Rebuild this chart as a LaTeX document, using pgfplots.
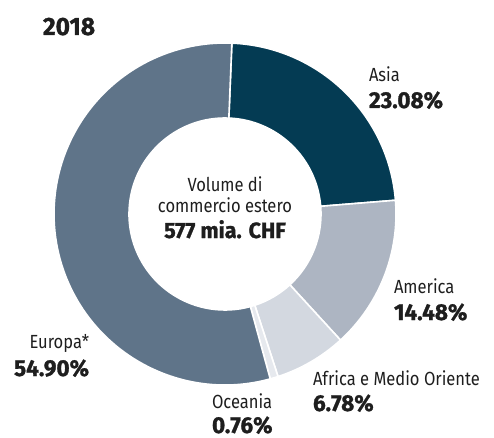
\documentclass[border=0pt]{standalone}
\usepackage{pgfplots}
\pgfplotsset{compat=1.18}
\usepackage{fontspec}
\setmainfont{Fira Sans}[FakeStretch=0.87,BoldFeatures={FakeStretch=0.98,FakeBold=1.2}]
\definecolor{cAsia}{HTML}{043B53}
\definecolor{cAme}{HTML}{ADB5C2}
\definecolor{cAfr}{HTML}{D3D8E0}
\definecolor{cOce}{HTML}{E6E9EE}
\definecolor{cEur}{HTML}{5F7489}
\definecolor{txt}{HTML}{1E1E1E}
\begin{document}
\begin{tikzpicture}
\begin{axis}[width=494pt,height=437pt,scale only axis,hide axis,
  xmin=0,xmax=494,ymin=0,ymax=437,clip=false]
\xdef\curang{87.7}
\foreach \v/\c in {23.08/cAsia,14.48/cAme,6.78/cAfr,0.76/cOce,54.90/cEur}{
  \pgfmathsetmacro\e{\curang-3.6*\v}
  \edef\temp{\noexpand\fill[\c,draw=white,line width=1.6pt,line join=miter]
    ([shift={(\curang:171pt)}]axis cs:225,223)
    arc[start angle=\curang,end angle=\e,radius=171pt]
    -- ([shift={(\e:96pt)}]axis cs:225,223)
    arc[start angle=\e,end angle=\curang,radius=96pt] -- cycle;}
  \temp
  \xdef\curang{\e}
}
\begin{scope}[every node/.style={inner sep=0pt,outer sep=0pt,text=txt}]
\node[anchor=base west,font=\fontsize{25}{28}\selectfont\bfseries] at (axis cs:43,402) {2018};
% Asia
\node[anchor=base west,font=\fontsize{19}{21}\selectfont] at (axis cs:369,355) {Asia};
\node[anchor=base west,font=\fontsize{23}{25}\selectfont\bfseries] at (axis cs:369,329) {23.08\%};
% America
\node[anchor=base west,font=\fontsize{19}{21}\selectfont] at (axis cs:394,144) {America};
\node[anchor=base west,font=\fontsize{23}{25}\selectfont\bfseries] at (axis cs:394,117) {14.48\%};
% Africa
\node[anchor=base west,font=\fontsize{19}{21}\selectfont] at (axis cs:313,52) {Africa e Medio Oriente};
\node[anchor=base west,font=\fontsize{23}{25}\selectfont\bfseries] at (axis cs:313,26) {6.78\%};
% Oceania
\node[anchor=base west,font=\fontsize{19}{21}\selectfont] at (axis cs:212,29) {Oceania};
\node[anchor=base west,font=\fontsize{23}{25}\selectfont\bfseries] at (axis cs:212,4) {0.76\%};
% Europa
\node[anchor=base east,font=\fontsize{19}{21}\selectfont] at (axis cs:89,89) {Europa*};
\node[anchor=base east,font=\fontsize{23}{25}\selectfont\bfseries] at (axis cs:89,61) {54.90\%};
% centre
\node[anchor=base,font=\fontsize{19}{21}\selectfont] at (axis cs:225,246) {Volume di};
\node[anchor=base,font=\fontsize{19}{21}\selectfont] at (axis cs:225,225) {commercio estero};
\node[anchor=base,font=\fontsize{22}{25}\selectfont\bfseries] at (axis cs:225,199) {577 mia. CHF};
\end{scope}
\end{axis}
\pgfresetboundingbox
\path[use as bounding box] (current axis.south west) rectangle (current axis.north east);
\end{tikzpicture}
\end{document}
